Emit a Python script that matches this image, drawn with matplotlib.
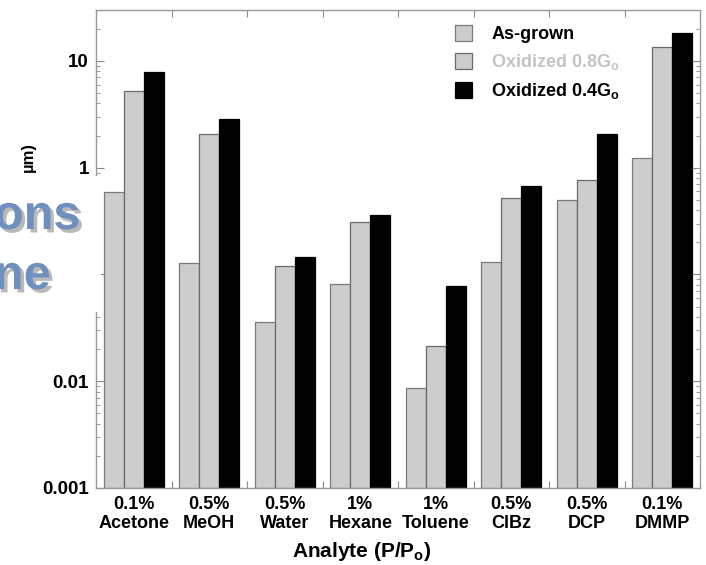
import matplotlib
matplotlib.use("Agg")
import matplotlib.pyplot as plt
import matplotlib.patheffects as pe
from matplotlib.patches import Rectangle
from matplotlib.ticker import LogLocator, FixedLocator, NullFormatter
import numpy as np

plt.rcParams['font.family'] = ['Liberation Sans', 'DejaVu Sans']
plt.rcParams['font.weight'] = 'bold'
plt.rcParams['mathtext.default'] = 'regular'

# analytes and their concentrations (P/Po)
analytes = ['Acetone', 'MeOH', 'Water', 'Hexane', 'Toluene', 'ClBz', 'DCP', 'DMMP']
conc = ['0.1%', '0.5%', '0.5%', '1%', '1%', '0.5%', '0.5%', '0.1%']

# response per film (log scale)
as_grown = [0.585, 0.128, 0.035, 0.080, 0.0076, 0.131, 0.495, 1.23]
oxid_08 = [5.26, 2.06, 0.120, 0.306, 0.0206, 0.514, 0.763, 13.4]
oxid_04 = [7.88, 2.85, 0.144, 0.356, 0.0777, 0.675, 2.06, 18.3]

series = [
    ('As-grown', as_grown, '#cdcdcd', '#7a7a7a', 'black'),
    ('Oxidized 0.8G$_o$', oxid_08, '#cdcdcd', '#6a6a6a', '#c4c4c4'),
    ('Oxidized 0.4G$_o$', oxid_04, 'black', 'black', 'black'),
]

W, H = 706, 565
fig = plt.figure(figsize=(W / 100, H / 100), dpi=100)
ax = fig.add_axes([96 / W, 1 - 488 / H, 604 / W, 478 / H])

x = np.arange(len(analytes))
bw = 0.265
for k, (name, vals, fc, ec, _) in enumerate(series):
    ax.bar(x + (k - 1) * bw, vals, bw, bottom=0.001, color=fc, edgecolor=ec,
           linewidth=0.9, label=name)

ax.set_yscale('log')
ax.set_ylim(0.001, 30)
ax.set_xlim(-0.5, len(analytes) - 0.5)

ax.yaxis.set_minor_locator(LogLocator(base=10, subs=np.arange(2, 10), numticks=10))
ax.yaxis.set_minor_formatter(NullFormatter())
ax.set_yticks([0.001, 0.01, 0.1, 1, 10])
ax.set_yticklabels(['0.001', '0.01', '0.1', '1', '10'], fontsize=13.5, fontweight='bold')

ax.set_xticks(x)
ax.set_xticklabels([f'{c}\n{a}' for c, a in zip(conc, analytes)],
                   fontsize=13, fontweight='bold', linespacing=1.1)
ax.xaxis.set_minor_locator(FixedLocator(x[:-1] + 0.5))

ax.tick_params(axis='y', which='major', direction='in', length=6, width=0.8,
               color='#8a8a8a', right=True, pad=5)
ax.tick_params(axis='y', which='minor', direction='in', length=3, width=0.6,
               color='#8a8a8a', right=True)
ax.tick_params(axis='x', which='major', length=0, pad=6)
ax.tick_params(axis='x', which='minor', direction='in', length=5, width=0.8,
               color='#8a8a8a', top=True)
for sp in ax.spines.values():
    sp.set_color('#9a9a9a')
    sp.set_linewidth(1.0)

ax.set_xlabel('Analyte (P/P$_o$)', fontsize=15, fontweight='bold')
ax.xaxis.set_label_coords((362 - 96) / 604, -(557 - 488) / 478)
ax.xaxis.label.set_va('baseline')

leg = ax.legend(loc='upper left', bbox_to_anchor=((455 - 96) / 604, (488 - 25) / 478),
                frameon=False, fontsize=13, handlelength=0.95, handleheight=0.95,
                handletextpad=1.05, labelspacing=0.5, borderpad=0, borderaxespad=0)
for txt, s in zip(leg.get_texts(), series):
    txt.set_color(s[4])
    txt.set_fontweight('bold')

# y label fragment visible above the slide caption
fig.text(28 / W, 1 - 157 / H, 'µm)', rotation=90, ha='center', va='center',
         fontsize=12, fontweight='bold')

# slide caption box laid over the left edge
fig.add_artist(Rectangle((0, 1 - 312 / H), 101 / W, 136 / H,
                         transform=fig.transFigure, facecolor='white',
                         edgecolor='none', zorder=5))
shadow = [pe.withSimplePatchShadow(offset=(2.5, -2.5), shadow_rgbFace='#a8a8a8', alpha=0.8)]
for word, yb in [('ons', 229), ('ne', 289)]:
    fig.text(-6 / W, 1 - yb / H, word, ha='left', va='baseline', fontsize=35,
             fontweight='bold', color='#6f8fbe', zorder=6, path_effects=shadow)

fig.savefig('out.png', dpi=100)
